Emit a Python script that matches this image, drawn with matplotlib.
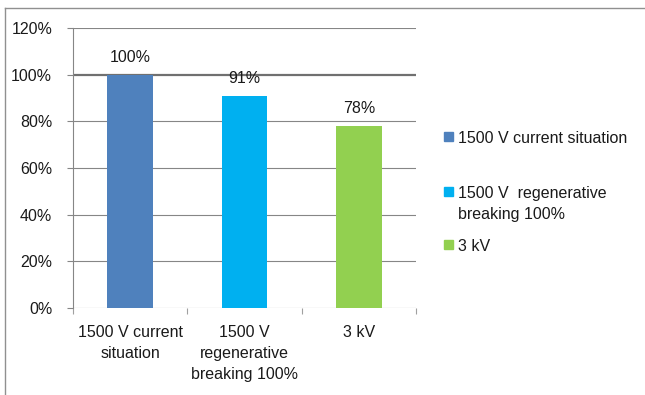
import matplotlib
matplotlib.use("Agg")
import matplotlib.pyplot as plt
from matplotlib.lines import Line2D
from matplotlib.patches import Rectangle

# data
categories = ["1500 V current\nsituation", "1500 V\nregenerative\nbreaking 100%", "3 kV"]
legend_labels = ["1500 V current situation", "1500 V  regenerative\nbreaking 100%", "3 kV"]
values = [1.00, 0.91, 0.78]
value_labels = ["100%", "91%", "78%"]
colors = ["#4F81BD", "#00B0F0", "#92D050"]
yticks = [0, 0.2, 0.4, 0.6, 0.8, 1.0, 1.2]
ytick_labels = ["0%", "20%", "40%", "60%", "80%", "100%", "120%"]

plt.rcParams["font.family"] = ["Liberation Sans", "DejaVu Sans"]
plt.rcParams["font.size"] = 11.5
TXT = "#1a1a1a"

W, H = 645, 395
fig = plt.figure(figsize=(W / 100, H / 100), dpi=100)
ax = fig.add_axes([73 / W, 1 - 308 / H, (416 - 73) / W, (308 - 28) / H])

x = list(range(len(values)))
ax.bar(x, values, width=0.4, color=colors, zorder=3)
for xi, v, lab in zip(x, values, value_labels):
    ax.annotate(lab, (xi, v), xytext=(0, 9.4), textcoords="offset points",
                ha="center", va="baseline", color=TXT)

ax.set_xlim(-0.5, 2.5)
ax.set_ylim(0, 1.2)
ax.set_yticks(yticks)
ax.set_yticklabels(ytick_labels, color=TXT)
# category boundaries get the tick marks, labels sit in the middle
ax.set_xticks([-0.5, 0.5, 1.5, 2.5], minor=False)
ax.set_xticklabels([])
ax.set_xticks(x, minor=True)
ax.set_xticklabels(categories, minor=True, linespacing=1.5, color=TXT)
ax.tick_params(axis="x", which="major", length=4, color="#A0A0A0", width=0.8)
ax.tick_params(axis="x", which="minor", length=0, pad=12)
ax.tick_params(axis="y", length=4, color="#868686", width=0.8, pad=11)

ax.grid(axis="y", color="#868686", linewidth=0.8, zorder=0)
ax.set_axisbelow(True)
ax.get_ygridlines()[5].set_linewidth(1.6)
ax.get_ygridlines()[5].set_color("#707070")
for s in ["top", "right", "bottom"]:
    ax.spines[s].set_visible(False)
ax.spines["left"].set_color("#868686")
ax.spines["left"].set_linewidth(0.8)

# legend drawn by hand (uneven entry spacing as in the original)
leg_base = [143, 198, 251]
LINE_PX = 21
for lab, c, yb in zip(legend_labels, colors, leg_base):
    fig.add_artist(Rectangle((444 / W, 1 - (yb - 2) / H), 9 / W, 9 / H,
                             transform=fig.transFigure, color=c))
    # va="baseline" pins the last line, so shift multi-line labels down
    last = yb + LINE_PX * lab.count("\n")
    fig.text(458 / W, 1 - last / H, lab, ha="left", va="baseline",
             linespacing=1.5, color=TXT)

# chart border (top and left only visible)
fig.add_artist(Line2D([5 / W, 1], [1 - 8 / H, 1 - 8 / H], transform=fig.transFigure,
                      color="#909090", linewidth=1))
fig.add_artist(Line2D([5 / W, 5 / W], [0, 1 - 8 / H], transform=fig.transFigure,
                      color="#909090", linewidth=1))

fig.savefig("out.png", dpi=100)
